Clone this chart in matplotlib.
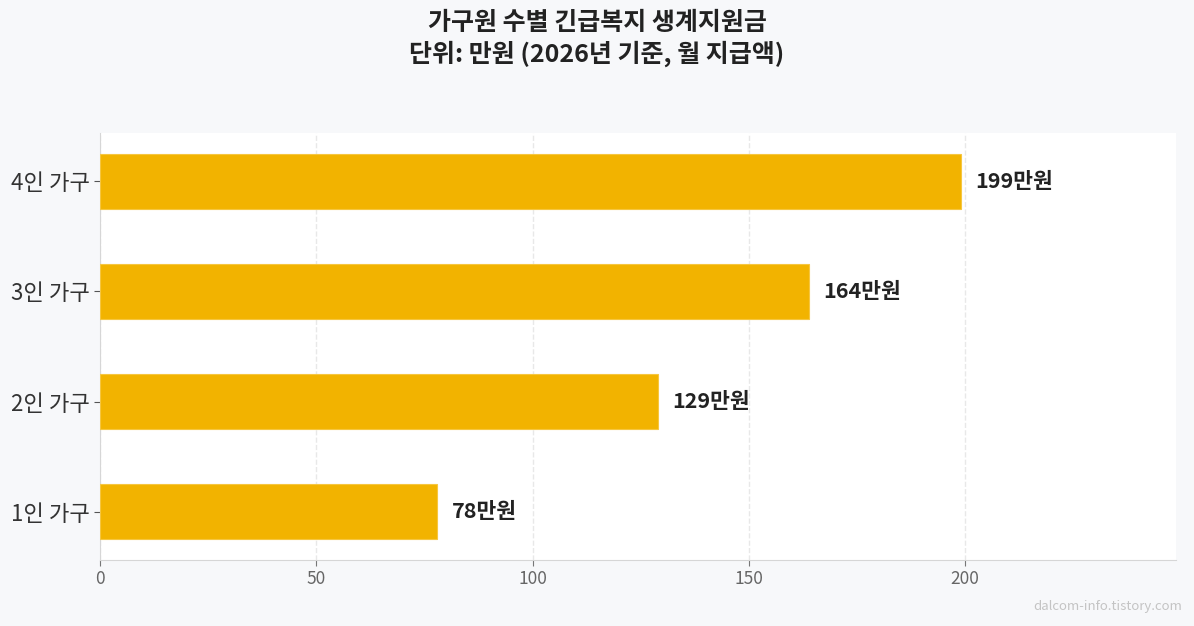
import matplotlib
matplotlib.use("Agg")
import matplotlib.pyplot as plt

plt.rcParams['font.family'] = ['Noto Sans CJK KR', 'DejaVu Sans']

# data
households = ['1인 가구', '2인 가구', '3인 가구', '4인 가구']
amounts = [78, 129, 164, 199]
value_labels = ['78만원', '129만원', '164만원', '199만원']
x_ticks = [0, 50, 100, 150, 200]

fig = plt.figure(figsize=(11.94, 6.26), dpi=100)
fig.patch.set_facecolor('#f7f8fa')
ax = fig.add_axes([100 / 1194, 66 / 626, 1076 / 1194, 427 / 626])
ax.set_facecolor('white')

bars = ax.barh(households, amounts, height=0.5, color='#f2b300',
               edgecolor='#f6c640', linewidth=0.8, zorder=3)

for bar, lbl in zip(bars, value_labels):
    ax.text(bar.get_width() + 3.3, bar.get_y() + bar.get_height() / 2, lbl,
            va='center', ha='left', fontsize=15.5, fontweight='bold', color='#222222')

ax.set_xlim(0, max(amounts) * 1.25)
ax.set_ylim(-0.44, 3.44)
ax.set_xticks(x_ticks)
ax.grid(axis='x', linestyle='--', color='#e8e8e8', linewidth=1, zorder=0)
ax.set_axisbelow(True)

for side in ['top', 'right']:
    ax.spines[side].set_visible(False)
for side in ['left', 'bottom']:
    ax.spines[side].set_color('#d6d6d6')

ax.tick_params(axis='y', labelsize=16, labelcolor='#333333', color='#555555', length=4)
ax.tick_params(axis='x', labelsize=12.5, labelcolor='#666666', color='#777777', length=4)

fig.suptitle('가구원 수별 긴급복지 생계지원금\n단위: 만원 (2026년 기준, 월 지급액)',
             fontsize=18, fontweight='bold', color='#222222', y=0.983, linespacing=1.3)

fig.text(0.99, 0.02, 'dalcom-info.tistory.com', ha='right', va='bottom',
         fontsize=9.5, color='#c4c4c4')

fig.savefig('out.png', dpi=100, facecolor=fig.get_facecolor())
